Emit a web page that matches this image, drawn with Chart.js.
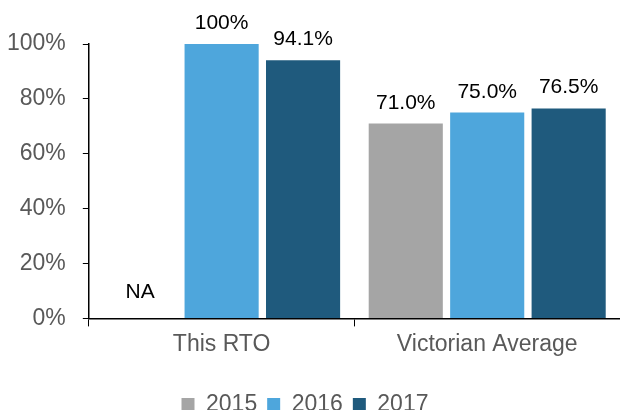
<!DOCTYPE html>
<html lang="en">
<head>
  <meta charset="UTF-8">
  <title>This RTO vs Victorian Average</title>
  <style>
    body { margin: 0; background: #fff; }
    #wrap { width: 620px; height: 410px; }
  </style>
</head>
<body>
<div id="wrap"><canvas id="chart" width="620" height="410"></canvas></div>

<script src="https://cdn.jsdelivr.net/npm/chart.js"></script>
<script>
  const categories = ['This RTO', 'Victorian Average'];
  const years = ['2015', '2016', '2017'];
  const values2015 = [null, 71.0];
  const values2016 = [100, 75.0];
  const values2017 = [94.1, 76.5];
  const yTicks = [0, 20, 40, 60, 80, 100];

  const colors = ['#a5a5a5', '#4ea6dc', '#1f5a7d'];
  const font = 'Liberation Sans, Arial, sans-serif';

  // value labels above bars, "NA" for missing values
  const valueLabels = {
    id: 'valueLabels',
    afterDatasetsDraw(chart) {
      const ctx = chart.ctx;
      const yScale = chart.scales.y;
      ctx.save();
      ctx.font = '21px ' + font;
      ctx.fillStyle = '#000';
      ctx.textAlign = 'center';
      ctx.textBaseline = 'alphabetic';
      chart.data.datasets.forEach((ds, i) => {
        chart.getDatasetMeta(i).data.forEach((bar, j) => {
          const v = ds.data[j];
          if (v === null) {
            ctx.fillText('NA', bar.x, yScale.getPixelForValue(0) - 20);
          } else {
            const txt = v === 100 ? '100%' : v.toFixed(1) + '%';
            ctx.fillText(txt, bar.x, bar.y - 15);
          }
        });
      });
      ctx.restore();
    }
  };

  new Chart(document.getElementById('chart'), {
    type: 'bar',
    data: {
      labels: categories,
      datasets: [
        { label: years[0], data: values2015, backgroundColor: colors[0] },
        { label: years[1], data: values2016, backgroundColor: colors[1] },
        { label: years[2], data: values2017, backgroundColor: colors[2] }
      ]
    },
    options: {
      responsive: false,
      animation: false,
      categoryPercentage: 0.92,
      barPercentage: 0.91,
      layout: { padding: { top: 44, right: 0, left: -10, bottom: -16 } },
      scales: {
        x: {
          grid: { drawOnChartArea: false, drawTicks: true, tickLength: 8, color: '#000', offset: true },
          border: { display: true, color: '#000', width: 1.5 },
          ticks: { color: '#595959', font: { size: 23, family: font }, padding: 4 },
          afterFit: (axis) => { axis.height += 21; }
        },
        y: {
          min: 0,
          max: 100,
          afterBuildTicks: (axis) => { axis.ticks = yTicks.map(v => ({ value: v })); },
          grid: { drawOnChartArea: false, drawTicks: true, tickLength: 6, color: '#000' },
          border: { display: true, color: '#000', width: 1.5 },
          ticks: {
            color: '#595959',
            font: { size: 23, family: font },
            padding: 17,
            callback: (v) => v + '%'
          }
        }
      },
      plugins: {
        legend: {
          position: 'bottom',
          labels: {
            boxWidth: 13,
            boxHeight: 13,
            padding: 10,
            color: '#595959',
            font: { size: 23, family: font }
          }
        },
        tooltip: { enabled: false }
      }
    },
    plugins: [valueLabels]
  });
</script>
</body>
</html>
